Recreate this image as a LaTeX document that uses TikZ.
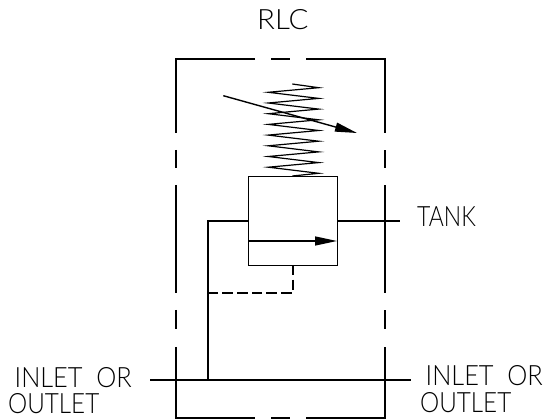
\documentclass[tikz,border=0pt]{standalone}
\usepackage{fontspec}
\setmainfont{Lato}[UprightFont={* Light}]
\usetikzlibrary{arrows.meta}
\tikzset{
  ln/.style={line width=1.4pt,black},
  frame/.style={line width=1.4pt,black},
  flow/.style={ln,-{Triangle[length=22pt,width=9pt]}},
  lbl/.style={inner sep=0pt,anchor=base west,font=\fontsize{28}{28}\selectfont}
}
\begin{document}
\begin{tikzpicture}[x=1pt,y=-1pt]
\useasboundingbox (0,0) rectangle (547,419);
\fill[white] (0,0) rectangle (547,419);
% dashed frame
\draw[frame] (255,59) -- (176,59) -- (176,133);
\draw[frame] (271,59) -- (290,59);
\draw[frame] (306,59) -- (385,59) -- (385,133);
\draw[frame] (176,150) -- (176,168);
\draw[frame] (176,185) -- (176,293);
\draw[frame] (176,310) -- (176,329);
\draw[frame] (176,347) -- (176,418) -- (255,418);
\draw[frame] (271,418) -- (290,418);
\draw[frame] (306,418) -- (385,418) -- (385,347);
\draw[frame] (385,329) -- (385,310);
\draw[frame] (385,293) -- (385,185);
\draw[frame] (385,168) -- (385,150);
% spring
\coordinate (springtop) at (292.3,84);
\coordinate (springend) at (292.3,176);
\draw[ln,line width=1.2pt] (springtop) -- (318.7,87.7)
  -- (268.3,92.3) -- (318.7,98.4)
  -- (268.3,103) -- (318.7,109.1)
  -- (268.3,113.7) -- (318.7,119.8)
  -- (268.3,124.4) -- (318.7,130.5)
  -- (268.3,135.1) -- (318.7,141.2)
  -- (268.3,145.8) -- (318.7,151.9)
  -- (268.3,156.5) -- (318.7,162.6)
  -- (268.3,167.2) -- (318.7,173.3)
  -- (springend);
% adjuster arrow
\coordinate (adjA) at (223.3,95.7);
\coordinate (adjB) at (357,133);
\draw[flow] (adjA) -- (adjB);
% valve
\node[draw,ln,minimum width=89pt,minimum height=89pt,inner sep=0pt,anchor=north west] (valve) at (248,176) {};
\coordinate (flowL) at (248,241);
\coordinate (flowR) at (337,241);
\draw[flow] (flowL) -- (flowR);
% ports
\coordinate (elbow) at (208,221);
\coordinate (tee) at (208,380);
\coordinate (portL) at (248,221);
\coordinate (portR) at (337,221);
\coordinate (tankEnd) at (400,221);
\coordinate (mainL) at (150,380);
\coordinate (mainR) at (411,380);
\draw[ln] (portL) -- (elbow) -- (tee);
\draw[ln] (portR) -- (tankEnd);
\draw[ln] (mainL) -- (mainR);
% pilot
\coordinate (pilotA) at (293,265);
\coordinate (pilotB) at (293,293);
\coordinate (pilotC) at (208,293);
\draw[ln,dash pattern=on 10.5pt off 4.2pt] (pilotA) -- (pilotB) -- (pilotC);
% labels
\node[lbl,xscale=1.05] (rlc) at (257,30) {RLC};
\node[lbl,xscale=0.82] (tank) at (417,227) {TANK};
\node[lbl,xscale=0.905] (il) at (14.5,387.3) {INLET\ \ OR};
\node[lbl,xscale=0.865] (ol) at (8,414) {OUTLET};
\node[lbl,xscale=0.905] (ir) at (425.5,386) {INLET\ \ OR};
\node[lbl,xscale=0.865] (or) at (420,412.7) {OUTLET};
\end{tikzpicture}
\end{document}
